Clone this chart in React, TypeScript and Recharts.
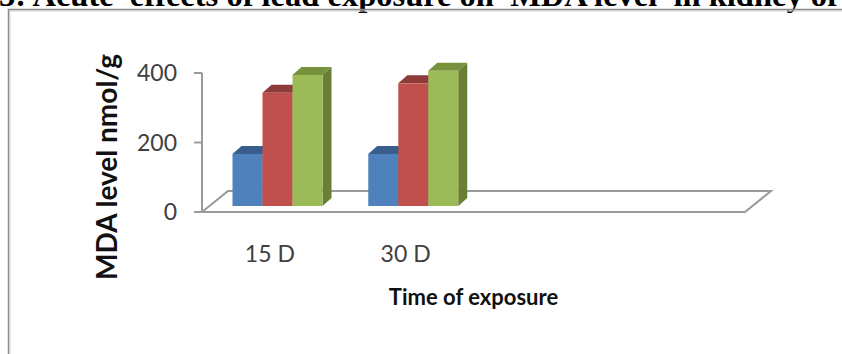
import React from 'react';
import { BarChart, Bar, XAxis, YAxis, ReferenceLine, Label } from 'recharts';

// Exposure periods (two empty slots keep the floor as wide as four groups)
const categories = ['15 D', '30 D', '', ''];
// MDA level, nmol/g
const controlMda = [150, 150, null, null];
const lowDoseMda = [326, 353, null, null];
const highDoseMda = [377, 389, null, null];
const yTicks = [0, 200, 400];

const data = categories.map((time, i) => ({
  time,
  control: controlMda[i],
  lowDose: lowDoseMda[i],
  highDose: highDoseMda[i],
}));

const W = 842;
const H = 354;

// pseudo-3D geometry
const SHIFT_X = 7.5; // bars stand part-way back on the floor
const SHIFT_Y = 6;
const BAR_DX = 9;
const BAR_DY = 8;
const FLOOR_DX = 26;
const FLOOR_DY = 21;

const AXIS_GRAY = '#9a9a9a';
const FONT = 'Lato, "Open Sans", sans-serif';

function box3d(front: string, top: string, side: string) {
  return (props: any) => {
    const { x, y, width, height } = props;
    if (height == null || !(height > 0)) return <g />;
    const fx = x + SHIFT_X;
    const fy = y - SHIFT_Y;
    const fb = y + height - SHIFT_Y;
    const fr = fx + width;
    return (
      <g>
        <polygon
          points={`${fr},${fy} ${fr + BAR_DX},${fy - BAR_DY} ${fr + BAR_DX},${fb - BAR_DY} ${fr},${fb}`}
          fill={side}
        />
        <polygon
          points={`${fx},${fy} ${fx + BAR_DX},${fy - BAR_DY} ${fr + BAR_DX},${fy - BAR_DY} ${fr},${fy}`}
          fill={top}
        />
        <rect x={fx} y={fy} width={width} height={height} fill={front} />
      </g>
    );
  };
}

const Floor = (props: any) => {
  const { x1, x2, y1 } = props;
  const pts = `${x1},${y1} ${x2},${y1} ${x2 + FLOOR_DX},${y1 - FLOOR_DY} ${x1 + FLOOR_DX},${y1 - FLOOR_DY}`;
  return (
    <g>
      <polygon points={pts} fill="none" stroke={AXIS_GRAY} strokeWidth={2} strokeLinejoin="miter" />
      <line x1={x1 - 4} y1={y1} x2={x1} y2={y1} stroke={AXIS_GRAY} strokeWidth={2} />
    </g>
  );
};

const XTick = (props: any) => {
  const { x, y, payload } = props;
  if (!payload || !payload.value) return <g />;
  return (
    <text x={x} y={y + 50} textAnchor="middle" fontFamily={FONT} fontSize={23} fill="#404040">
      {payload.value}
    </text>
  );
};

const XTitle = (props: any) => {
  const vb = props.viewBox || {};
  return (
    <text
      x={vb.x + vb.width / 2}
      y={vb.y + 93}
      textAnchor="middle"
      fontFamily={FONT}
      fontWeight={700}
      fontSize={22}
      fill="#111"
    >
      Time of exposure
    </text>
  );
};

const YTitle = (props: any) => {
  const vb = props.viewBox || {};
  const cx = vb.x + 115;
  const cy = vb.y + 94;
  return (
    <text
      x={cx}
      y={cy}
      transform={`rotate(-90 ${cx} ${cy})`}
      textAnchor="middle"
      fontFamily={FONT}
      fontWeight={700}
      fontSize={28}
      fill="#111"
    >
      MDA level nmol/g
    </text>
  );
};

export default function App() {
  return (
    <div style={{ position: 'fixed', left: 0, top: 0, width: W, height: H, overflow: 'hidden', background: '#fff' }}>
      <svg width={W} height={H} style={{ position: 'absolute', left: 0, top: 0, display: 'block' }}>
        <text
          x={-1}
          y={6}
          fontFamily={'"Liberation Serif", "Times New Roman", serif'}
          fontWeight={700}
          fontSize={32.5}
          fill="#000"
          style={{ whiteSpace: 'pre' }}
        >
          {'3: Acute  effects of lead exposure on  MDA level  in kidney of rats'}
        </text>
        <rect x={10} y={11} width={900} height={400} fill="none" stroke="#d6d6d6" strokeWidth={1} />
        <rect x={8.5} y={9.5} width={900} height={400} fill="none" stroke="#8a8a8a" strokeWidth={1.5} />
      </svg>
      <div style={{ position: 'absolute', left: 0, top: 0 }}>
        <BarChart
          width={W}
          height={H}
          data={data}
          margin={{ top: 73, right: 97, bottom: 82, left: 2 }}
          barGap={0}
          barSize={30}
        >
          <ReferenceLine y={0} shape={Floor} zIndex={-50} ifOverflow="visible" />
          <XAxis
            dataKey="time"
            height={60}
            axisLine={false}
            tickLine={false}
            tickSize={0}
            tickMargin={0}
            tick={XTick}
            interval={0}
          >
            <Label content={XTitle} />
          </XAxis>
          <YAxis
            width={200}
            domain={[0, 400]}
            ticks={yTicks}
            interval={0}
            axisLine={{ stroke: AXIS_GRAY, strokeWidth: 2 }}
            tickLine={{ stroke: AXIS_GRAY, strokeWidth: 2 }}
            tickSize={8}
            tickMargin={17}
            tick={{ fill: '#404040', fontSize: 23, fontFamily: FONT }}
          >
            <Label content={YTitle} />
          </YAxis>
          <Bar dataKey="control" isAnimationActive={false} shape={box3d('#4F81BD', '#385D8A', '#34557F')} />
          <Bar dataKey="lowDose" isAnimationActive={false} shape={box3d('#C0504D', '#8E3A38', '#8A3735')} />
          <Bar dataKey="highDose" isAnimationActive={false} shape={box3d('#9BBB59', '#76923C', '#687F35')} />
        </BarChart>
      </div>
    </div>
  );
}
